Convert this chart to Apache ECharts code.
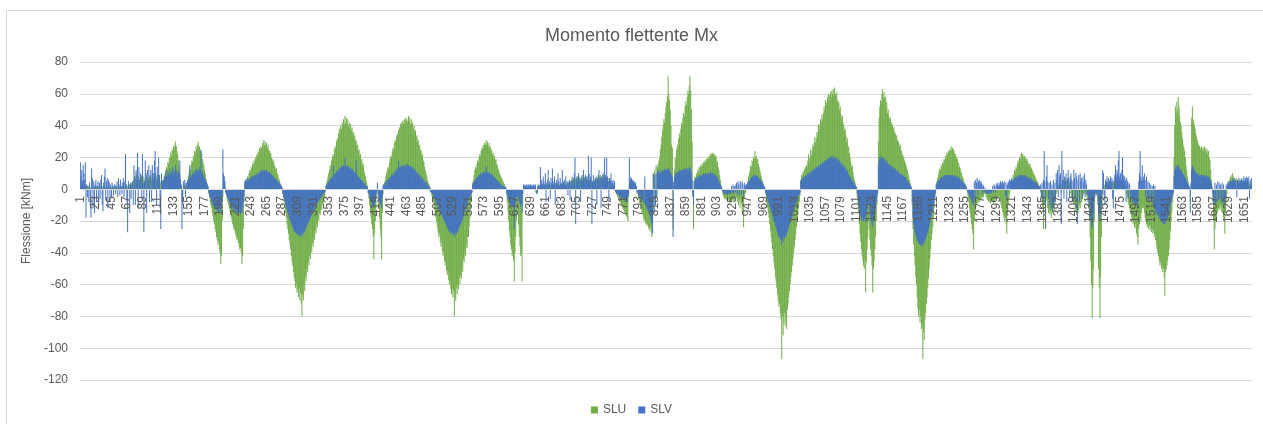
<!DOCTYPE html>
<html><head><meta charset="utf-8">
<script src="https://cdn.jsdelivr.net/npm/echarts@6/dist/echarts.min.js"></script>
<style>
html,body{margin:0;padding:0;background:#fff;}
#wrap{position:relative;width:1263px;height:424px;overflow:hidden;}
#chart{position:absolute;left:0;top:0;width:1263px;height:424px;}
#frame{position:absolute;left:6px;top:10px;width:1260px;height:420px;border:1px solid #D9D9D9;pointer-events:none;}
</style></head>
<body><div id="wrap"><div id="chart"></div><div id="frame"></div></div>
<script>
// ---- data, region by region along the beam sections ----
const slu01=[1,1,2,1,1,2,1,1,2,3, 2,1,1,2,1,1,2,1,1,1, 2,1,1,2,1,1,1,2,1,1, 1,2,1,1,2,1,1,1,2,1, 1,1,2,1,1,1,2,1,1,1, 2,1,1,1,2,1,1,2,1,1, 1,2,1,1,2,3,2,1,3,2, 3,2,3,4,3,5,6,8,7,10, 9,10,8,6,5,7,8,9,10,8, 6,5,7,9,8,6,5,7,8,6, 8,6,9,10,7,8,10,9,6,8, 7,9,8,5,4,6,5];
const slv01=[17,8,12,5,15,10,6,17,-18,3, -5,2,-8,4,-10,-18,13,7,-12,5, -15,3,6,-8,2,5,-10,4,-6,6, 9,-10,-14,4,8,13,-7,5,7,-12, 6,4,-8,3,-5,4,2,-4,3,3, -3,2,5,-5,7,3,-4,6,2,-3, 4,7,-5,5,22,3,-8,-27,5,3, -15,4,-6,3,5,-10,15,8,-10,12, 5,23,-12,14,6,10,8,-6,22,4, -27,5,18,10,-15,12,5,15,-8,9, 12,-8,15,10,6,18,24,8,-10,14, 6,20,9,-12,-25,10,5];
const slu02=[5,6,8,10,12,14,13,17,16,20, 19,23,21,25,24,27,26,28,30,27, 24,22,18,14,10,6,2,-8,-5];
const slv02=[6,4,8,7,10,8,12,9,10,8, 13,9,11,8,14,10,12,9,15,10, 12,9,11,10,18,6,3,-25,-10];
const slu03=[1,2,1,2,3];
const slv03=[5,3,6,-5,4];
const slu04=[3,5,8,10,13,12,16,18,17,21, 20,24,23,27,25,28,30,26,27,24, 22,23,19,17,15,12,10,7,5,3, 1];
const slv04=[4,6,5,8,15,7,9,8,10,9, 11,10,12,9,13,11,12,10,14,12, 25,10,11,9,8,7,6,5,4,3, 2];
const slu05=[-3,-5,-8,-10,-12,-15,-17,-20,-22,-25, -27,-30,-32,-35,-33,-38,-40,-47,-42,-20, -5];
const slv05=[-2,-4,-5,-6,-8,-9,-10,-11,-12,-10, -13,-12,-14,-13,-15,-12,-14,-15,-10,-5, 25];
const slu06=[2,3,1,-2,-4,-6,-8,-10,-12,-14, -16,-18,-20,-22,-24,-26,-25,-28,-30,-32, -31,-34,-36,-38,-37,-40,-47,-42,-25,-8];
const slv06=[10,8,5,-2,-3,-5,-6,-7,-8,-9, -10,-11,-10,-12,-13,-12,-14,-13,-15,-14, -15,-13,-15,-14,-16,-15,-14,-12,-8,-4];
const slu07=[2,3,5,6,8,7,10,12,11,14, 13,16,15,18,17,20,19,22,21,24, 23,26,25,27,26,29,27,31,28,30, 27,29,26,28,25,24,22,23,20,19, 17,18,15,14,12,13,10,9,7,6, 4,3,2,1];
const slv07=[5,6,4,7,5,6,5,7,6,8, 7,8,7,9,8,9,8,10,9,10, 9,11,10,12,11,12,11,12,11,12, 11,12,11,11,10,11,10,10,9,9, 8,8,7,7,6,6,5,5,4,4, 3,3,2,1];
const slu08=[-3,-5,-8,-12,-15,-18,-22,-25,-28,-32, -35,-38,-42,-45,-48,-52,-55,-58,-62,-60, -65,-63,-68,-62,-70,-65,-72,-80,-66,-70, -60,-64,-55,-58,-50,-52,-46,-48,-42,-44, -38,-40,-34,-36,-30,-32,-26,-28,-22,-24, -18,-20,-15,-16,-12,-13,-9,-10,-6,-5, -2];
const slv08=[-3,-5,-6,-8,-10,-12,-13,-15,-16,-18, -19,-20,-22,-23,-24,-25,-26,-27,-27,-28, -28,-29,-28,-30,-28,-29,-28,-30,-27,-28, -26,-27,-25,-24,-23,-22,-21,-20,-19,-18, -17,-16,-15,-14,-13,-12,-11,-10,-9,-9, -8,-7,-7,-6,-5,-5,-4,-3,-3,-2, -1];
const slu09=[2,4,6,8,10,12,15,14,18,20, 22,21,25,27,26,30,32,31,35,38, 36,40,38,42,40,44,41,46,42,45, 41,44,40,42,38,41,37,39,35,36, 32,34,30,31,27,28,24,25,21,22, 18,19,15,16,12,10,8,6,4,2];
const slv09=[2,3,3,4,5,5,6,7,7,8, 8,15,9,10,10,11,11,12,12,13, 13,14,14,15,14,15,14,20,15,14, 15,14,14,13,14,13,12,13,12,11, 11,10,10,18,9,8,8,7,7,6, 6,5,5,4,4,3,3,2,2,1];
const slu10=[-3,-6,-10,-14,-18,-22,-25,-30,-44,-28, -20,-12,-3,2,-5,-10,-18,-25,-30,-44, -15,-3];
const slv10=[-2,-3,-5,-6,-8,-9,-10,-10,-12,-10, -8,-5,-2,4,-3,-5,-8,-9,-10,-12, -5,3];
const slu11=[2,4,6,8,10,12,14,13,17,19, 21,20,24,26,25,29,31,30,33,35, 34,37,39,38,41,42,40,43,41,44, 42,45,43,44,42,46,43,45,41,44, 40,42,38,40,36,37,33,34,30,31, 27,28,24,25,21,22,18,17,14,12, 10,8,6,4,3,2,1];
const slv11=[3,2,4,5,3,6,5,7,6,8, 7,9,8,10,9,11,10,12,11,13, 12,18,14,13,14,15,14,15,14,15, 15,14,15,16,15,15,14,15,14,14, 13,14,12,13,11,12,10,11,9,10, 8,9,7,8,6,7,5,6,4,5, 3,4,2,3,2,1,-2];
const slu12=[-2,-4,-6,-8,-10,-13,-16,-18,-21,-24, -27,-30,-28,-33,-36,-34,-39,-42,-40,-45, -48,-46,-51,-54,-52,-57,-60,-58,-63,-66, -62,-68,-64,-80,-66,-70,-62,-66,-60,-63, -56,-60,-54,-56,-49,-52,-44,-46,-40,-42, -35,-37,-30,-30,-24,-18,-12,-6,-2];
const slv12=[-1,-2,-3,-4,-5,-6,-7,-8,-9,-10, -11,-12,-13,-14,-15,-16,-17,-18,-19,-20, -21,-22,-23,-24,-25,-26,-27,-26,-28,-27, -28,-27,-29,-28,-30,-27,-28,-26,-27,-25, -24,-23,-22,-21,-20,-18,-17,-15,-14,-12, -11,-10,-8,-7,-6,-5,-4,-3,-2];
const slu13=[4,6,9,12,14,13,16,18,17,20, 22,21,24,26,25,28,27,29,28,31, 28,30,27,29,26,27,24,25,22,23, 20,21,18,19,16,15,13,12,10,9, 8,7,6,5,4,3,2,1];
const slv13=[3,4,5,5,6,7,7,8,8,9, 9,10,9,10,10,11,10,11,10,14, 11,10,11,10,10,9,10,9,9,8, 8,7,7,6,6,5,5,4,4,3, 3,3,2,2,2,1,1,1];
const slu14=[-3,-8,-14,-20,-26,-30,-35,-38,-42,-40, -45,-58,-40,-30,-20,-10,-15,-22,-30,-36, -42,-40,-58,-10];
const slv14=[-2,-4,-6,-7,-8,-9,-10,-10,-11,-10, -12,-25,-10,-8,-5,-3,-5,-6,-8,-9, -10,-11,-15,-3];
const slu15=[1,1,1,1,1,1,1,1,1,1, 1,1,1,1,1,1,1,1,-2,-3, -2,1,1,1];
const slv15=[3,2,3,2,3,3,2,3,2,3, 3,2,3,2,3,3,2,3,-2,-3, 2,3,3,2];
const slu16=[2,3,2,3,2,3,2,3,2,3, 3,2,3,4,3,2,3,4,3,2, 3,4,3,2,3,4,3,2,3,4, 3,2,3,4,3,2,3,4,3,4, 4,5,4,5,6,5,6,7,6,7, 5,7,8,6,7,8,7,6,8,7, 6,8,7,8,6,7,8,6,7,5, 4,5,6,5,4,3,5,6,7,6, 5,7,8,7,8,9,7,8,9,8, 7,8,9,8,7,6,7,5,4,3, 2,3,2,1,2,1];
const slv16=[14,4,6,3,8,5,3,10,-8,4, 6,12,3,5,-6,7,4,13,5,3, 8,-10,4,6,3,10,5,2,7,4, 3,12,5,4,6,2,8,3,5,-4, 4,6,-7,5,3,8,6,4,10,20, -22,6,8,4,10,5,7,-8,6,9, 5,12,7,4,9,6,8,5,21,10, 6,8,20,-22,5,9,6,4,7,8, -10,6,9,12,5,7,-12,8,6,10, 7,20,9,6,20,8,5,-8,7,6, 10,5,4,6,3,5];
const slu17=[-1,-2,-3,-4,-5,-6,-7,-8,-9,-10, -11,-12,-13,-14,-15,-16,-17,-18,-20,-5, 3,5,4,6,5,4,5,3,4,2, 1,-2];
const slv17=[-1,-2,-3,-2,-4,-3,-5,-4,-6,-5, -6,-5,-7,-6,-8,-7,-6,-8,-5,-3, 20,8,6,7,5,6,4,5,3,4, 2,-2];
const slu18=[-3,-5,-7,-9,-11,-13,-15,-16,-18,-20, -19,-21,-22,-23,-22,-24,-25,-26,-24,-27, -30,-20,10,-15,12,-10,15,-5,14,16, 18];
const slv18=[-2,-3,-4,-5,-6,-4,-6,-7,-8,-9, 8,-10,-11,-12,-13,-14,-15,-16,-18,-20, -22,-28,10,-15,9,-10,10,-5,11,12, 10];
const slu19=[20,25,28,33,37,40,44,42,48,52, 55,58,71,60,56,50,40,28,26,-25, 5];
const slv19=[10,11,10,12,11,12,11,13,12,12, 12,13,12,13,12,11,10,9,8,-30, 4];
const slu20=[12,20,18,25,28,26,32,35,33,38, 42,40,45,48,46,52,55,53,58,62, 60,65,71,62,50,30,-5,-25];
const slv20=[8,10,9,10,11,10,11,12,11,12, 11,12,12,13,12,13,12,13,12,13, 12,13,14,12,10,6,-4,-10];
const slu21=[5,8,7,10,9,12,11,14,13,15, 14,16,15,17,16,18,17,19,18,20, 19,21,20,22,21,23,22,23,21,22, 20,21,18,17,14,12,9,6,3,1];
const slv21=[5,6,7,6,8,7,8,7,9,8, 9,8,9,10,9,10,9,10,9,10, 10,9,10,11,10,9,10,9,10,9, 9,8,8,7,6,5,4,3,2,1];
const slu22=[-2,-4,-5,-6,-5,-7,-6,-8,-7,-6, -8,-7,-9,-8,-7,-6,-8,-5,-7,-6, -5,-8,-6,-10,-7,-12,-6,-9,-15,-8, -24,-6,-3,-2,1];
const slv22=[-1,-2,-3,-2,-3,-2,-3,-4,-3,-2, -3,-2,-3,2,-2,3,-3,2,-2,3, 4,-3,5,3,-4,5,4,-3,5,3, -5,4,3,2,3];
const slu23=[3,5,8,10,12,15,14,18,17,20, 19,24,20,21,18,19,16,14,12,10, 8,6,5,3,2,1];
const slv23=[3,4,5,5,6,7,7,8,8,9, 8,9,8,9,8,8,7,7,6,6, 5,4,4,3,2,1];
const slu24=[-3,-6,-9,-12,-15,-18,-22,-26,-30,-34, -38,-42,-46,-50,-55,-58,-62,-66,-70,-74, -72,-78,-82,-107,-80,-92,-84,-78,-86,-80, -88,-76,-72,-68,-64,-60,-55,-52,-48,-44, -40,-36,-32,-28,-24,-20,-16,-12,-8,-4];
const slv24=[-2,-3,-5,-6,-8,-9,-11,-12,-14,-15, -17,-18,-20,-21,-23,-24,-26,-27,-29,-30, -31,-30,-32,-35,-31,-33,-30,-31,-29,-30, -28,-27,-25,-24,-22,-21,-19,-18,-16,-15, -13,-12,-10,-9,-7,-6,-5,-4,-3,-2];
const slu25=[6,9,8,11,10,12,14,13,15,14, 18,22,17,20,25,21,24,28,26,30, 33,29,32,36,34,41,37,40,44,42, 47,44,48,52,50,56,53,55,58,60, 56,59,61,58,62,60,63,59,64,60, 58,61,56,54,55,50,52,47,44,46, 42,40,37,38,34,30,32,26,27,23, 20,17,14,15,11,8,6,4,2,1];
const slv25=[5,6,7,6,8,7,8,9,8,9, 10,9,10,11,10,11,12,11,12,13, 12,13,14,13,14,15,14,15,16,15, 16,17,16,17,18,17,18,19,18,19, 20,19,20,21,20,19,21,20,19,20, 19,20,18,19,17,18,16,17,15,16, 14,15,13,14,12,11,12,10,9,8, 8,7,6,5,5,4,3,3,2,1];
const slu26=[-5,-10,-15,-22,-28,-33,-38,-42,-45,-48, -50,-44,-65,-46,-38,-30,-20,-25,-32,-38, -42,-48,-65,-50,-45,-38,-30,-20,-10,-3];
const slv26=[-3,-6,-9,-12,-15,-17,-19,-20,-18,-20, -19,-17,-21,-15,-12,-10,-8,-10,-14,-17, -20,-22,-24,-20,-18,-15,-12,-8,-5,-2];
const slu27=[30,45,52,56,54,60,63,58,61,57, 58,52,55,48,50,46,44,45,41,42, 40,38,39,36,35,33,34,31,30,29, 27,28,25,24,22,21,20,18,17,15, 14,12,10,8,6,4,2,1];
const slv27=[15,18,20,19,21,20,19,20,18,19, 17,18,16,17,15,16,15,14,15,14, 13,14,13,12,13,12,11,12,11,10, 10,9,10,9,8,9,8,7,8,7, 6,5,5,4,3,3,2,1];
const slu28=[-10,-25,-35,-42,-48,-55,-60,-68,-75,-80, -76,-84,-80,-88,-85,-107,-90,-95,-82,-78, -72,-68,-62,-56,-50,-44,-38,-32,-28,-24, -18,-12,-7,-3];
const slv28=[-8,-18,-22,-25,-27,-29,-30,-32,-33,-34, -35,-34,-36,-35,-34,-36,-33,-34,-32,-31, -30,-28,-27,-25,-23,-21,-19,-17,-15,-13, -10,-8,-5,-2];
const slu29=[3,5,7,9,11,13,12,15,14,17, 16,19,18,21,20,23,22,24,23,25, 24,27,25,26,24,25,23,22,21,20, 19,17,16,14,13,11,10,8,7,5, 4,3,2,1];
const slv29=[3,4,5,5,6,6,7,7,8,7, 8,8,9,8,9,8,9,9,8,9, 9,8,9,8,9,8,8,9,8,8, 7,8,7,7,6,6,5,5,4,4, 3,3,2,1];
const slu30=[-2,-5,-8,-12,-15,-18,-22,-25,-28,-38, -20,-15,-12,-10,-8,-9,-7,-8,-6,-7, -5,-6,-4,-5,-3,-2];
const slv30=[-1,-2,-3,-4,-5,-6,-7,-8,-9,-10, 5,-6,6,4,7,-4,5,6,3,5, 4,-3,3,2,-2,1];
const slu31=[-3,-5,-6,-7,-8,-7,-8,-9,-8,-7, -8,-9,-8,-7,-6,-7,-5,-6,-5,-4, -6,-8,-10,-12,-14,-16,-18,-20,-18,-22, -28,-15,-10,-6,-3,2,4,5];
const slv31=[-2,-3,-2,-3,-2,-3,-2,-3,-2,-1, 2,-2,3,2,-2,3,4,3,2,4, 3,5,4,3,5,4,3,5,-4,4, -6,3,5,4,6,5,6,7];
const slu32=[6,9,8,12,11,14,13,16,18,17, 20,19,22,23,21,22,20,21,19,20, 18,19,17,16,15,16,14,13,12,11, 10,9,8,7,6,5,4,3,2,1];
const slv32=[5,6,6,7,7,8,7,8,8,9, 8,9,8,9,8,9,8,8,9,8, 8,7,8,7,7,6,7,6,5,6, 5,4,5,4,3,4,3,2,2,1];
const slu33=[-2,-5,-8,-12,-25,-10,-6,-8,-5,-7, -12,-15,-13,-16,-14,-18,-13,-15,-12,-14, -6,-5,-3,-2,2,3,4,2,3,-2, 3,4,5,6,5,7,6,5,7,6, 5,4,3,-3,-5,-7,-8,-10,-9,-11, -14,-16,-12,-15,-13,-10,-12,-9,-8,-6, -4,-3,-2,-3,-2,-4,-6];
const slv33=[3,-5,4,-8,6,24,5,-25,8,15, 5,-6,4,-10,5,-12,3,-14,6,-10, 4,-8,10,6,12,-5,15,8,10,-22, 24,6,12,-6,8,5,10,-8,6,12, 7,-5,8,10,6,-8,5,12,7,-6, 10,8,-22,6,9,-8,10,5,7,-6, 8,4,10,-5,6,3,-3];
const slu34=[-8,-12,-20,-30,-45,-60,-81,-62,-50,-20, -5,-3,-4,-3,-10,-50,-62,-81,-55,-30, -10,-3];
const slv34=[-4,-6,-10,-20,-18,-22,-25,-20,-15,-8, -3,-2,-3,-2,-5,-15,-20,-18,-15,-10, -4,12];
const slu35=[2,3,2,3,4,3,4,3,4,3, 4,3,4,5,4,5,4,5,4,5, 5,4,5,6,5,4,5,6,4,5, 4,3,2,-3,-5,-8,-10,-12];
const slv35=[10,-5,-10,6,5,8,4,7,5,6, 8,5,7,-6,-12,6,9,15,8,12, 10,18,24,8,10,6,12,20,9,7, 8,6,-8,7,5,-6,4,3];
const slu36=[-14,-16,-18,-20,-22,-20,-24,-22,-25,-28, -30,-35,-25,-22,-18,-20,-15,-12,-10];
const slv36=[-3,-5,-6,-8,-7,-9,-8,-10,-9,-10, -12,-8,5,10,24,8,6,15,5];
const slu37=[-12,-15,-18,-20,-22,-24,-22,-25,-23,-26, -24,-27,-25,-28,-26,-30,-28,-32,-35,-38];
const slv37=[8,10,6,-5,8,-6,5,-8,4,-6, 3,-8,2,-10,3,-12,2,-14,-15,-16];
const slu38=[-40,-42,-45,-48,-46,-50,-48,-52,-50,-55, -67,-52,-50,-48,-45,-42,-38,-32,-26,-20, -14,-8,-3];
const slv38=[-16,-17,-18,-19,-20,-19,-21,-20,-22,-21, -22,-21,-20,-19,-18,-16,-14,-12,-10,-8, -6,-4,-2];
const slu39=[20,40,52,48,55,50,58,52,46,42, 40,36,32,28,26,24,20,15,12,8, 5,3,1,-8,2];
const slv39=[8,12,14,13,15,14,15,14,13,12, 12,11,10,9,9,8,7,6,5,4, 3,2,1,-15,4];
const slu40=[45,52,44,42,40,38,35,33,31,29, 28,27,26,25,27,24,26,25,27,24, 26,23,25,22,24,20,18,12,6,2];
const slv40=[12,15,14,13,12,11,10,10,9,10, 9,8,9,8,9,8,9,8,9,8, 9,8,8,7,8,7,6,5,3,1];
const slu41=[-8,-20,-38,-25,-20,-18,-15,-14,-12,-13, -12,-10,-14,-12,-15,-18,-20,-28,-15,-8, -3];
const slv41=[-3,-8,-10,4,-9,3,-8,5,-7,4, -6,3,-8,4,-9,3,-10,-8,-5,3, 2];
const slu42=[3,5,4,6,8,7,9,10,8,7, 6,5,7,6,5,4,6,5,4,5, 6,4,5,6,4,5,3,4,5,3, 4,3,2,3,2];
const slv42=[4,3,5,4,6,5,4,6,5,7, 5,6,4,-5,6,5,7,4,6,5, 7,5,6,8,5,7,6,8,7,5, 8,-6,6,4,7];

const yTicks=[-120,-100,-80,-60,-40,-20,0,20,40,60,80];
const seriesNames=['SLU','SLV'];

const sluParts=[slu01,slu02,slu03,slu04,slu05,slu06,slu07,slu08,slu09,slu10,slu11,slu12,slu13,slu14,slu15,slu16,slu17,slu18,slu19,slu20,slu21,slu22,slu23,slu24,slu25,slu26,slu27,slu28,slu29,slu30,slu31,slu32,slu33,slu34,slu35,slu36,slu37,slu38,slu39,slu40,slu41,slu42];
const slvParts=[slv01,slv02,slv03,slv04,slv05,slv06,slv07,slv08,slv09,slv10,slv11,slv12,slv13,slv14,slv15,slv16,slv17,slv18,slv19,slv20,slv21,slv22,slv23,slv24,slv25,slv26,slv27,slv28,slv29,slv30,slv31,slv32,slv33,slv34,slv35,slv36,slv37,slv38,slv39,slv40,slv41,slv42];

const slu=[], slv=[];
for(let i=0;i<sluParts.length;i++){
  const a=sluParts[i], b=slvParts[i], n=Math.max(a.length,b.length);
  for(let j=0;j<n;j++){ slu.push(j<a.length?a[j]:0); slv.push(j<b.length?b[j]:0); }
}
const categories=slu.map((_,i)=>String(i+1));

const txt='#595959', grid='#D9D9D9', ff='"Liberation Sans", Arial, sans-serif';
const G={left:80,right:11,top:62,bottom:44};
const H=424, plotH=H-G.top-G.bottom;
const yMin=yTicks[0], yMax=yTicks[yTicks.length-1];
// place the category axis (line + labels) at value 0, like the original
const zeroY=G.top+plotH*(yMax-0)/(yMax-yMin);
const xOffset=-((H-G.bottom)-zeroY);

const chart=echarts.init(document.getElementById('chart'),null,{renderer:'canvas'});
chart.setOption({
  animation:false,
  textStyle:{fontFamily:ff},
  title:{text:'Momento flettente Mx',left:'center',top:22,textStyle:{fontSize:18,fontWeight:'normal',color:txt,fontFamily:ff}},
  legend:{data:seriesNames,left:'center',top:399,icon:'rect',itemWidth:7,itemHeight:7,itemGap:12,textStyle:{fontSize:12,color:txt,fontFamily:ff}},
  grid:Object.assign({containLabel:false},G),
  xAxis:{type:'category',data:categories,boundaryGap:true,position:'bottom',offset:xOffset,z:10,
    axisLine:{onZero:false,lineStyle:{color:grid,width:1}},
    axisTick:{show:false},
    axisLabel:{interval:21,rotate:90,fontSize:12,color:txt,margin:7,fontFamily:ff},
    splitLine:{show:false}},
  yAxis:{type:'value',min:yMin,max:yMax,interval:20,
    name:'Flessione [kNm]',nameLocation:'middle',nameGap:47,nameRotate:90,
    nameTextStyle:{fontSize:12,color:txt,fontFamily:ff},
    axisLine:{show:false},axisTick:{show:false},
    axisLabel:{fontSize:12,color:txt,margin:12,fontFamily:ff},
    splitLine:{lineStyle:{color:grid,width:1}}},
  series:[
    {name:seriesNames[0],type:'bar',data:slu,itemStyle:{color:'#70AD47'},barGap:'-100%',barCategoryGap:'25%'},
    {name:seriesNames[1],type:'bar',data:slv,itemStyle:{color:'#4472C4'},barGap:'-100%',barCategoryGap:'25%'}
  ]
});
</script></body></html>
